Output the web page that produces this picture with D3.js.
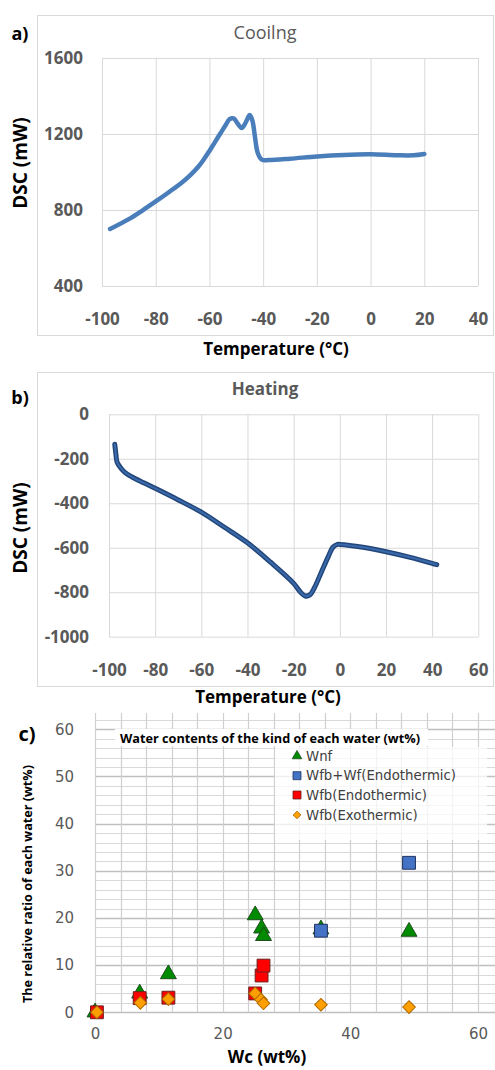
<!DOCTYPE html>
<html><head><meta charset="utf-8">
<script src="https://cdn.jsdelivr.net/npm/d3@7/dist/d3.min.js"></script>
<style>body{margin:0;background:#fff}svg{display:block}</style>
</head><body>
<script>
// ---- Data ----
const coolingT   = [-97,-90,-85,-80,-75,-70,-67,-64,-62,-60,-58,-56,-54,-52.5,-51,-49.5,-48,-46.5,-45,-44,-43,-42,-40.5,-38,-30,-20,-10,0,10,16,20];
const coolingDSC = [700,752,797,845,895,948,985,1030,1068,1111,1156,1201,1246,1278,1282,1255,1232,1260,1300,1270,1180,1100,1065,1063,1070,1082,1090,1093,1088,1088,1095];
const heatingT   = [-97.5,-97,-96.5,-95,-93,-90,-85,-80,-70,-60,-50,-40,-30,-20,-17,-15,-13,-11,-8,-5,-3,-1,0,10,20,30,40,42];
const heatingDSC = [-135,-180,-215,-240,-262,-282,-308,-333,-385,-440,-508,-578,-665,-760,-800,-817,-812,-780,-710,-640,-598,-585,-585,-598,-618,-642,-670,-676];
const tempTicksA = [-100,-80,-60,-40,-20,0,20,40];
const dscTicksA  = [400,800,1200,1600];
const tempTicksB = [-100,-80,-60,-40,-20,0,20,40,60];
const dscTicksB  = [0,-200,-400,-600,-800,-1000];
const wcTicks    = [0,20,40,60];
const ratioTicks = [0,10,20,30,40,50,60];
const seriesNames = ["Wnf","Wfb+Wf(Endothermic)","Wfb(Endothermic)","Wfb(Exothermic)"];
const wnfX  = [0,7,11.5,25.1,26.1,26.4,35.4,49.2];
const wnfY  = [0,4.0,8.1,20.6,17.8,16.2,17.6,17.1];
const wfbwfX = [35.4,49.2];
const wfbwfY = [17.3,31.7];
const endoX = [0.3,7,11.5,25.1,26.1,26.4];
const endoY = [0,3.0,3.1,4.0,7.8,9.9];
const exoX  = [0.3,7.1,11.5,25.1,26.0,26.4,35.4,49.2];
const exoY  = [0,2.0,2.8,4.0,2.7,1.9,1.6,1.1];

const W = 495, H = 1070;
const svg = d3.select("body").append("svg").attr("width", W).attr("height", H);
const gridC = "#d9d9d9", tickC = "#595959";
const FONT = "'Open Sans', sans-serif";

function panelFrame(x0,y0,x1,y1){
  svg.append("rect").attr("x",x0+0.5).attr("y",y0+0.5).attr("width",x1-x0).attr("height",y1-y0)
    .attr("fill","none").attr("stroke",gridC).attr("stroke-width",1);
}
function lineChart(opt){
  const x = d3.scaleLinear().domain(opt.xd).range(opt.xr);
  const y = d3.scaleLinear().domain(opt.yd).range(opt.yr);
  const g = svg.append("g");
  g.append("g").attr("transform",`translate(0,${opt.yr[0]})`)
    .call(d3.axisBottom(x).tickValues(opt.xt).tickSize(opt.yr[1]-opt.yr[0]).tickFormat(""))
    .call(s=>{s.select(".domain").remove(); s.selectAll("line").attr("stroke",gridC);});
  g.append("g").attr("transform",`translate(${opt.xr[0]},0)`)
    .call(d3.axisRight(y).tickValues(opt.yt).tickSize(opt.xr[1]-opt.xr[0]).tickFormat(""))
    .call(s=>{s.select(".domain").remove(); s.selectAll("line").attr("stroke",gridC);});
  g.append("g").attr("transform",`translate(0,${opt.xlabY})`)
    .call(d3.axisBottom(x).tickValues(opt.xt).tickSize(0).tickPadding(0))
    .call(s=>{s.select(".domain").remove(); s.selectAll("text").attr("fill",tickC)
      .attr("font-family",FONT).attr("font-size",17).attr("font-weight","bold").attr("dy","0.35em")
      .text(d=>String(d));});
  g.append("g").attr("transform",`translate(${opt.ylabX},0)`)
    .call(d3.axisLeft(y).tickValues(opt.yt).tickSize(0).tickPadding(0))
    .call(s=>{s.select(".domain").remove(); s.selectAll("text").attr("fill",tickC)
      .attr("font-family",FONT).attr("font-size",17).attr("font-weight","bold").text(d=>String(d));});
  const pts = opt.xs.map((v,i)=>[v,opt.ys[i]]);
  const line = d3.line().x(d=>x(d[0])).y(d=>y(d[1])).curve(d3.curveCatmullRom.alpha(0.5));
  opt.strokes.forEach(st=>{
    g.append("path").datum(pts).attr("d",line).attr("fill","none")
      .attr("stroke",st[0]).attr("stroke-width",st[1]).attr("stroke-linecap","round").attr("stroke-linejoin","round");
  });
}
function text(x,y,s,o){
  const t = svg.append("text").attr("x",x).attr("y",y).text(s)
    .attr("font-family",o.font||FONT).attr("font-size",o.size).attr("fill",o.fill||"#000")
    .attr("font-weight",o.weight||"normal").attr("text-anchor",o.anchor||"middle").attr("dominant-baseline","central");
  if(o.rotate) t.attr("transform",`rotate(-90,${x},${y})`);
  if(o.len) t.attr("textLength",o.len).attr("lengthAdjust","spacingAndGlyphs");
  return t;
}

// ---- Panel a ----
panelFrame(37,15,493,335);
lineChart({xd:[-100,40],xr:[102,478],yd:[400,1600],yr:[286,58],xt:tempTicksA,yt:dscTicksA,
  xlabY:319,ylabX:83,xs:coolingT,ys:coolingDSC,strokes:[["#4a7ebb",4.5]]});
text(265,32,"Cooilng",{size:18,fill:tickC});
text(20,33,"a)",{size:18,weight:"bold"});
text(20,163,"DSC (mW)",{size:19,weight:"bold",rotate:true});
text(276,348,"Temperature (°C)",{size:17,weight:"bold"});

// ---- Panel b ----
panelFrame(37,372,493,686);
lineChart({xd:[-100,60],xr:[109,478.3],yd:[-1000,0],yr:[636.7,414.3],xt:tempTicksB,yt:dscTicksB,
  xlabY:670,ylabX:89,xs:heatingT,ys:heatingDSC,strokes:[["#22467a",5],["#3b6aaa",2]]});
text(265,388,"Heating",{size:17,weight:"bold",fill:tickC});
text(20,397,"b)",{size:18,weight:"bold"});
text(20,528,"DSC (mW)",{size:19,weight:"bold",rotate:true});
text(268,696,"Temperature (°C)",{size:17,weight:"bold"});

// ---- Panel c ----
const xc = d3.scaleLinear().domain([0,64]).range([95,503.5]);
const yc = d3.scaleLinear().domain([0,62]).range([1012.3,719.9]);
const gc = svg.append("g");
const minorY = d3.range(0,62.1,2), minorX = d3.range(0,64.1,4);
gc.append("g").selectAll("line").data(minorY).join("line")
  .attr("x1",xc(0)).attr("x2",W).attr("y1",d=>Math.round(yc(d))+0.5).attr("y2",d=>Math.round(yc(d))+0.5)
  .attr("stroke",d=>d%10===0?"#bfbfbf":"#d9d9d9").attr("stroke-width",d=>d%10===0?1.5:1);
gc.append("g").selectAll("line").data(minorX).join("line")
  .attr("x1",d=>Math.round(xc(d))+0.5).attr("x2",d=>Math.round(xc(d))+0.5).attr("y1",713).attr("y2",yc(0))
  .attr("stroke","#d0d0d0").attr("stroke-width",1.2);
gc.append("g").attr("transform","translate(0,1034)")
  .call(d3.axisBottom(xc).tickValues(wcTicks).tickSize(0).tickPadding(0))
  .call(s=>{s.select(".domain").remove(); s.selectAll("text").attr("fill",tickC)
    .attr("font-family","'DejaVu Sans', sans-serif").attr("font-size",15).attr("dy","0.35em");});
gc.append("g").attr("transform","translate(74,0)")
  .call(d3.axisLeft(yc).tickValues(ratioTicks).tickSize(0).tickPadding(0))
  .call(s=>{s.select(".domain").remove(); s.selectAll("text").attr("fill",tickC)
    .attr("font-family","'DejaVu Sans', sans-serif").attr("font-size",15);});
svg.append("rect").attr("x",115).attr("y",729).attr("width",313).attr("height",17).attr("fill","#fff");
text(270,737.5,"Water contents of the kind of each water (wt%)",{size:13,weight:"bold",len:300});
svg.append("rect").attr("x",275).attr("y",747).attr("width",212).attr("height",93).attr("fill","#fff").attr("opacity",0.75);

const sym = {
  tri: d3.symbol().type(d3.symbolTriangle).size(110),
  sq: d3.symbol().type(d3.symbolSquare).size(165),
  dia: d3.symbol().type(d3.symbolSquare).size(80)
};
const series = [
  {name:seriesNames[0],xs:wnfX,ys:wnfY,sym:"tri",rot:0,fill:"#008a00",stroke:"#1e4d1e",ls:d3.symbol().type(d3.symbolTriangle).size(40)},
  {name:seriesNames[1],xs:wfbwfX,ys:wfbwfY,sym:"sq",rot:0,fill:"#4472c4",stroke:"#1f3460",ls:d3.symbol().type(d3.symbolSquare).size(64)},
  {name:seriesNames[2],xs:endoX,ys:endoY,sym:"sq",rot:0,fill:"#ff0000",stroke:"#6b2020",ls:d3.symbol().type(d3.symbolSquare).size(64)},
  {name:seriesNames[3],xs:exoX,ys:exoY,sym:"dia",rot:45,fill:"#ffa000",stroke:"#b06a00",ls:d3.symbol().type(d3.symbolSquare).size(30)}
];
series.forEach(s=>{
  gc.append("g").selectAll("path").data(s.xs.map((v,i)=>[v,s.ys[i]])).join("path")
    .attr("d",sym[s.sym]).attr("transform",d=>`translate(${xc(d[0])},${yc(d[1])}) rotate(${s.rot})`)
    .attr("fill",s.fill).attr("stroke",s.stroke).attr("stroke-width",1);
});
const legY = [756,775.7,795,815];
series.forEach((s,i)=>{
  svg.append("path").attr("d",s.ls).attr("transform",`translate(297,${legY[i]}) rotate(${s.rot})`)
    .attr("fill",s.fill).attr("stroke",s.stroke).attr("stroke-width",0.8);
  text(306,legY[i],s.name,{size:13.3,anchor:"start",fill:"#404040",font:"'DejaVu Sans', sans-serif"});
});
text(27,733,"c)",{size:20,weight:"bold"});
text(27,884,"The relative ratio of each water (wt%)",{size:13,weight:"bold",rotate:true,len:238});
text(267,1056,"Wc (wt%)",{size:17,weight:"bold"});
</script>
</body></html>
